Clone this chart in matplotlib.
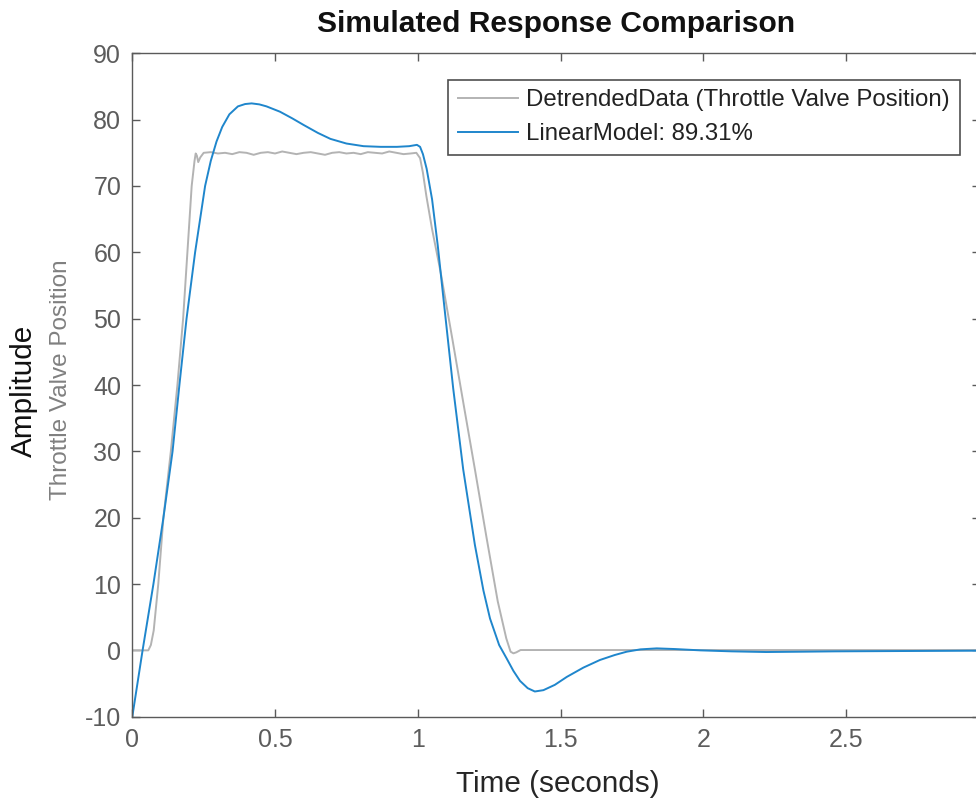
import matplotlib
matplotlib.use("Agg")
import matplotlib.pyplot as plt
import numpy as np

plt.rcParams['font.family'] = ['Liberation Sans', 'DejaVu Sans']
plt.rcParams['axes.unicode_minus'] = False

data_t = [0.0, 0.056, 0.065, 0.075, 0.091, 0.109, 0.135, 0.158, 0.178, 0.193, 0.208,
          0.218, 0.222, 0.226, 0.231, 0.238, 0.25,
          0.275, 0.3, 0.325, 0.35, 0.375, 0.4, 0.425, 0.45, 0.475, 0.5, 0.525, 0.55,
          0.575, 0.6, 0.625, 0.65, 0.675, 0.7, 0.725, 0.75, 0.775, 0.8, 0.825, 0.85,
          0.875, 0.9, 0.925, 0.95, 0.975, 0.995,
          1.008, 1.018, 1.03, 1.05, 1.08, 1.12, 1.16, 1.2, 1.24, 1.28, 1.31, 1.325,
          1.335, 1.345, 1.36, 1.5, 2.0, 2.5, 2.97]
data_y = [0.0, 0.0, 0.8, 3.0, 10.0, 20.0, 30.0, 40.0, 50.0, 60.0, 70.0,
          73.8, 74.9, 74.6, 73.6, 74.3, 75.0,
          75.1, 74.9, 75.0, 74.8, 75.1, 75.0, 74.7, 75.0, 75.1, 74.9, 75.2, 75.0,
          74.8, 75.0, 75.1, 74.9, 74.7, 75.0, 75.1, 74.9, 75.0, 74.8, 75.1, 75.0,
          74.9, 75.2, 75.0, 74.8, 74.9, 75.0,
          74.2, 72.0, 68.5, 63.5, 57.0, 47.2, 37.2, 27.3, 17.2, 7.4, 1.8, -0.2,
          -0.45, -0.3, 0.05, 0.05, 0.05, 0.05, 0.05]

# linear model simulation (blue)
model_t = [0.0, 0.036, 0.074, 0.109, 0.141, 0.165, 0.19, 0.22, 0.255, 0.275, 0.295,
           0.315, 0.34, 0.37, 0.395, 0.418, 0.445, 0.47, 0.517, 0.56, 0.6, 0.65, 0.694,
           0.75, 0.81, 0.87, 0.927, 0.97, 0.997, 1.008, 1.018, 1.031, 1.05, 1.07,
           1.095, 1.124, 1.159, 1.2, 1.23, 1.253, 1.285, 1.311, 1.335, 1.358, 1.385,
           1.41, 1.44, 1.48, 1.522, 1.58, 1.638, 1.69, 1.732, 1.78, 1.837, 1.9,
           1.99, 2.1, 2.22, 2.35, 2.46, 2.7, 2.97]
model_y = [-10.0, 0.0, 10.0, 20.0, 30.0, 40.0, 50.0, 60.0, 70.0, 73.8, 76.7,
           78.9, 80.8, 82.0, 82.35, 82.45, 82.3, 82.0, 81.2, 80.2, 79.2, 78.0, 77.1,
           76.4, 76.0, 75.9, 75.9, 76.0, 76.2, 75.9, 74.8, 72.6, 68.0, 61.0,
           51.0, 39.5, 27.3, 15.9, 9.0, 4.8, 0.8, -1.2, -3.1, -4.6, -5.7,
           -6.2, -6.0, -5.2, -4.0, -2.6, -1.45, -0.7, -0.2, 0.15, 0.3, 0.2,
           0.0, -0.15, -0.25, -0.2, -0.15, -0.1, -0.05]

data_label = 'DetrendedData (Throttle Valve Position)'
model_label = 'LinearModel: 89.31%'

W, H = 976, 801
fig = plt.figure(figsize=(W / 100, H / 100), dpi=100)
x0, x1 = 132.3, 980.2
y0, y1 = 53.3, 716.7
ax = fig.add_axes([x0 / W, 1 - y1 / H, (x1 - x0) / W, (y1 - y0) / H])

ax.plot(data_t, data_y, color='#b3b3b3', lw=1.4, label=data_label)
ax.plot(model_t, model_y, color='#1f86cc', lw=1.4, label=model_label)

ax.set_xlim(0, 2.97)
ax.set_ylim(-10, 90)
ax.set_xticks(np.arange(0, 3.0, 0.5))
ax.set_xticklabels(['0', '0.5', '1', '1.5', '2', '2.5'])
ax.set_yticks(np.arange(-10, 91, 10))

gc = '#5a5a5a'
for s in ax.spines.values():
    s.set_color(gc)
    s.set_linewidth(1.0)
ax.tick_params(direction='in', length=6, width=1.0, color=gc, labelcolor='#5c5c5c',
               labelsize=18, top=True, right=True, pad=8)

fig.text(556 / W, 1 - 24 / H, 'Simulated Response Comparison', ha='center', va='center',
         fontsize=21.6, fontweight='bold', color='#111111')
fig.text(558 / W, 1 - 784 / H, 'Time (seconds)', ha='center', va='center',
         fontsize=21.4, color='#262626')
fig.text(24 / W, 1 - 391 / H, 'Amplitude', ha='center', va='center', rotation=90,
         fontsize=21.4, color='#111111')
fig.text(61 / W, 1 - 380 / H, 'Throttle Valve Position', ha='center', va='center',
         rotation=90, fontsize=17.5, color='#808080')

leg = ax.legend(loc='upper right', bbox_to_anchor=(959.7 / W, 1 - 79.6 / H),
                bbox_transform=fig.transFigure, fontsize=17.3, frameon=True,
                fancybox=False, handlelength=2.5, handletextpad=0.35,
                borderpad=0.4, labelspacing=0.5, borderaxespad=0)
leg.get_frame().set_edgecolor('#222222')
leg.get_frame().set_linewidth(1.2)
for t in leg.get_texts():
    t.set_color('#222222')

fig.savefig('out.png', dpi=100)
